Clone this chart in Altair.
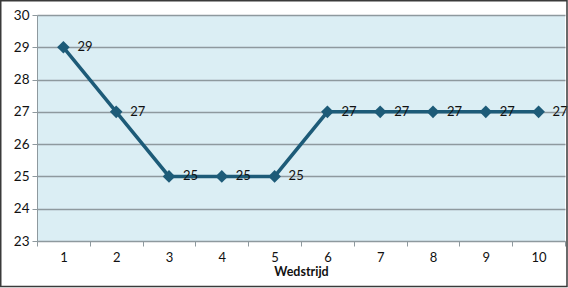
import altair as alt
import pandas as pd

wedstrijd = [1, 2, 3, 4, 5, 6, 7, 8, 9, 10]
waarde = [29, 27, 25, 25, 25, 27, 27, 27, 27, 27]

df = pd.DataFrame({"Wedstrijd": wedstrijd, "Waarde": waarde})

W, H = 528, 226
FONT = "Lato"
LINE = "#1d5b78"
GRID = "#8e999e"

x = alt.X("Wedstrijd:O", title="Wedstrijd",
          scale=alt.Scale(paddingInner=0, paddingOuter=0),
          axis=alt.Axis(labelAngle=0, tickBand="extent", tickSize=5, tickColor=GRID,
                        domainColor=GRID, labelFontSize=13, labelPadding=5,
                        labelFont=FONT, labelColor="#111", titleFont=FONT,
                        titleFontSize=12.5, titleFontWeight="bold", titlePadding=1,
                        titleColor="#111", grid=False))
y = alt.Y("Waarde:Q", title=None,
          scale=alt.Scale(domain=[23, 30], nice=False, zero=False),
          axis=alt.Axis(values=list(range(23, 31)), tickSize=5, tickColor=GRID,
                        domainColor=GRID, gridColor=GRID, gridWidth=1.5,
                        labelFontSize=13.5, labelFont=FONT, labelColor="#111",
                        labelPadding=3))

base = alt.Chart(df).encode(x=x, y=y)
line = base.mark_line(color=LINE, strokeWidth=3.5)
pts = base.mark_point(shape="diamond", filled=True, size=160, color=LINE, opacity=1)
txt = base.mark_text(align="left", baseline="middle", dx=14, fontSize=13,
                     font=FONT, color="#111").encode(text="Waarde:Q")

border = alt.Chart(pd.DataFrame({"b": [0]})).mark_rect(
    fill=None, stroke="#3a3a3a", strokeWidth=1.5).encode(
    x=alt.value(-36.25), x2=alt.value(W + 2), y=alt.value(-14.25), y2=alt.value(H + 45.5))

chart = alt.layer(line, pts, txt, border).properties(
    width=W, height=H,
    autosize=alt.AutoSizeParams(type="none"),
    padding={"left": 37, "top": 15, "right": 3, "bottom": 47},
    background="white",
).configure_view(fill="#dbeef4", stroke=None)

chart.save("out.html", embed_options={"renderer": "svg", "actions": False})
